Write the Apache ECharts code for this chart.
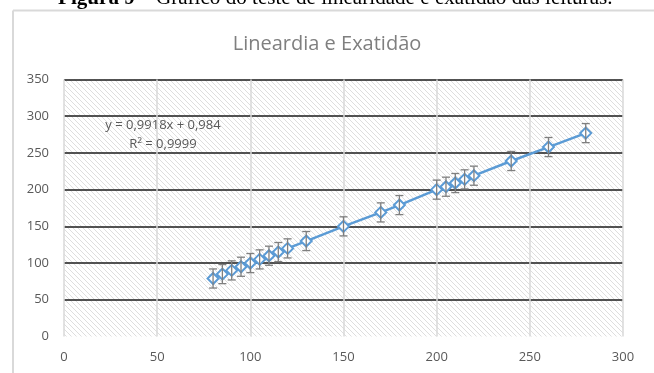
<!DOCTYPE html>
<html>
<head>
<meta charset="utf-8">
<script src="https://cdn.jsdelivr.net/npm/echarts@6/dist/echarts.min.js"></script>
<style>html,body{margin:0;padding:0;background:#fff;}#c{width:654px;height:373px;}</style>
</head>
<body>
<div id="c"></div>
<script>
// ---- data ----
const xValues = [80, 85, 90, 95, 100, 105, 110, 115, 120, 130, 150, 170, 180, 200, 205, 210, 215, 220, 240, 260, 280];
const yValues = [79, 85, 90, 95, 100, 105, 110, 115, 120, 130, 150, 169, 179, 200, 204, 209, 214, 219, 239, 258, 277];
const errValues = [13, 13, 13, 13, 13, 13, 13, 13, 13, 13, 13, 13, 13, 13, 13, 13, 13, 13, 13, 13, 13];
const xTicks = [0, 50, 100, 150, 200, 250, 300];
const yTicks = [0, 50, 100, 150, 200, 250, 300, 350];
const titleText = 'Lineardia e Exatidão';
const captionBold = 'Figura 9 –';
const captionText = 'Gráfico do teste de linearidade e exatidão das leituras.';
const eqLine1 = 'y = 0,9918x + 0,984';
const eqLine2 = 'R² = 0,9999';

// hatch pattern
function makeHatch() {
  const s = 5;
  const cv = document.createElement('canvas');
  cv.width = s; cv.height = s;
  const ctx = cv.getContext('2d');
  const img = ctx.createImageData(s, s);
  for (let j = 0; j < s; j++) for (let i = 0; i < s; i++) {
    const k = (j * s + i) * 4;
    const on = ((i - j) % s + s) % s === 0;
    const v = on ? 222 : 255;
    img.data[k] = v; img.data[k+1] = v; img.data[k+2] = v; img.data[k+3] = 255;
  }
  ctx.putImageData(img, 0, 0);
  return cv;
}

// caption layout (measure)
const mctx = document.createElement('canvas').getContext('2d');
function tw(t, f) { mctx.font = f; return mctx.measureText(t).width; }
const capLeft = 58, capRight = 613;
const tot = tw(captionBold, 'bold 19px "Liberation Serif"') + tw(' ' + captionText, '19px "Liberation Serif"');
const fs = 19 * (capRight - capLeft) / tot;
const boldW = tw(captionBold + ' ', 'bold ' + fs + 'px "Liberation Serif"');

const pts = xValues.map((x, i) => [x, yValues[i]]);
const errData = xValues.map((x, i) => [x, yValues[i] - errValues[i], yValues[i] + errValues[i]]);

const chart = echarts.init(document.getElementById('c'), null, {renderer: 'canvas'});
const labelFont = {fontFamily: 'Open Sans', fontSize: 13, color: '#595959'};
chart.setOption({
  animation: false,
  backgroundColor: '#fff',
  title: {
    text: titleText, left: 'center', top: 29,
    textStyle: {fontFamily: 'Open Sans', fontSize: 20, fontWeight: 'normal', color: '#7f7f7f'}
  },
  grid: {
    left: 64, right: 31, top: 79.5, bottom: 36.5, show: true,
    borderWidth: 0,
    backgroundColor: {image: makeHatch(), repeat: 'repeat'}
  },
  xAxis: {
    type: 'value', min: xTicks[0], max: xTicks[xTicks.length - 1], interval: 50,
    axisLine: {show: false}, axisTick: {show: false},
    axisLabel: Object.assign({margin: 14}, labelFont),
    splitLine: {show: true, lineStyle: {color: '#d9d9d9', width: 1.5}}
  },
  yAxis: {
    type: 'value', min: yTicks[0], max: yTicks[yTicks.length - 1], interval: 50,
    axisLine: {show: false}, axisTick: {show: false},
    axisLabel: Object.assign({margin: 15}, labelFont),
    splitLine: {show: true, lineStyle: {color: ['rgba(0,0,0,0)', '#1a1a1a', '#1a1a1a', '#1a1a1a', '#1a1a1a', '#1a1a1a', '#1a1a1a', '#1a1a1a'], width: 1.5}}
  },
  series: [
    {
      type: 'line', data: pts, z: 3,
      symbol: 'diamond', symbolSize: 11, showAllSymbol: true,
      lineStyle: {color: '#5b9bd5', width: 2.5},
      itemStyle: {color: '#ffffff', borderColor: '#5b9bd5', borderWidth: 2}
    },
    {
      type: 'custom', data: errData, z: 4,
      encode: {x: 0, y: [1, 2]},
      renderItem: function (params, api) {
        const x = api.value(0);
        const lo = api.coord([x, api.value(1)]);
        const hi = api.coord([x, api.value(2)]);
        const w = 4;
        const st = {stroke: '#7f7f7f', lineWidth: 1.3};
        return {type: 'group', children: [
          {type: 'line', shape: {x1: lo[0], y1: lo[1], x2: hi[0], y2: hi[1]}, style: st},
          {type: 'line', shape: {x1: lo[0]-w, y1: lo[1], x2: lo[0]+w, y2: lo[1]}, style: st},
          {type: 'line', shape: {x1: hi[0]-w, y1: hi[1], x2: hi[0]+w, y2: hi[1]}, style: st}
        ]};
      }
    }
  ],
  graphic: [
    {type: 'line', shape: {x1: 13, y1: 10.5, x2: 654, y2: 10.5}, style: {stroke: '#d9d9d9', lineWidth: 2}, z: 10},
    {type: 'line', shape: {x1: 13, y1: 10.5, x2: 13, y2: 373}, style: {stroke: '#d9d9d9', lineWidth: 2}, z: 10},
    {type: 'text', x: capLeft, y: 9, z: 10, style: {
      text: captionBold, fontFamily: 'Liberation Serif', fontSize: fs, fontWeight: 'bold', fill: '#000',
      align: 'left', verticalAlign: 'bottom'
    }},
    {type: 'text', x: capLeft + boldW, y: 9, z: 10, style: {
      text: captionText, fontFamily: 'Liberation Serif', fontSize: fs, fill: '#000',
      align: 'left', verticalAlign: 'bottom'
    }},
    {type: 'text', x: 163, y: 125, z: 10, style: {text: eqLine1, align: 'center', verticalAlign: 'middle', fontFamily: 'Open Sans', fontSize: 13, fill: '#595959'}},
    {type: 'text', x: 163, y: 144, z: 10, style: {text: eqLine2, align: 'center', verticalAlign: 'middle', fontFamily: 'Open Sans', fontSize: 13, fill: '#595959'}}
  ]
});
</script>
</body>
</html>
